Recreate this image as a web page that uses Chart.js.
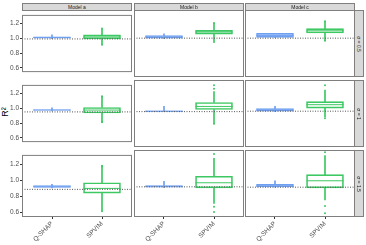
<!DOCTYPE html>
<html>
<head>
<meta charset="utf-8">
<script src="https://cdn.jsdelivr.net/npm/chart.js@4"></script>
<style>
body { margin: 0; width: 366px; height: 245px; position: relative; background: #fff; overflow: hidden; font-family: "Liberation Sans", Arial, sans-serif; }
.strip { position: absolute; background: #d9d9d9; border: 1px solid #7f7f7f; box-sizing: border-box; font-size: 5px; color: #1a1a1a; display: flex; align-items: center; justify-content: center; white-space: nowrap; }
.strip.side span { transform: rotate(90deg); }
#ylab { position: absolute; left: 0px; top: 107px; font-size: 9px; color: #000; transform: rotate(-90deg); }
</style>
</head>
<body>
<div id="ylab">R²</div>
<script>
const categories = ['Q-SHAP', 'SPVIM'];
const models = ['Model a', 'Model b', 'Model c'];
const noiseLevels = ['σ = 0.5', 'σ = 1', 'σ = 1.5'];
const yTicks = [0.6, 0.8, 1.0, 1.2];

// dotted reference line, [row][col]
const refLines = [
  [0.99, 0.99, 0.99],
  [0.95, 0.95, 0.955],
  [0.886, 0.89, 0.886]
];

// [lower whisker, q1, median, q3, upper whisker], [row][col]
const qshapStats = [
  [[0.995, 1.0, 1.01, 1.02, 1.045], [0.985, 0.99, 1.005, 1.02, 1.04], [1.0, 1.0, 1.02, 1.045, 1.045]],
  [[0.965, 0.97, 0.975, 0.98, 1.005], [0.95, 0.95, 0.955, 0.96, 1.01], [0.95, 0.955, 0.97, 0.985, 1.01]],
  [[0.905, 0.91, 0.92, 0.933, 0.95], [0.88, 0.886, 0.895, 0.905, 0.953], [0.885, 0.89, 0.9, 0.918, 0.96]]
];
const spvimStats = [
  [[0.92, 0.99, 1.017, 1.045, 1.125], [0.955, 1.035, 1.06, 1.08, 1.16], [0.965, 1.05, 1.075, 1.1, 1.18]],
  [[0.83, 0.935, 0.975, 1.01, 1.14], [0.83, 0.975, 1.01, 1.055, 1.18], [0.89, 0.99, 1.03, 1.065, 1.2]],
  [[0.64, 0.84, 0.898, 0.968, 1.16], [0.70, 0.878, 0.937, 1.012, 1.22], [0.74, 0.878, 0.96, 1.03, 1.25]]
];
const qshapOutliers = [
  [[], [], []],
  [[], [], []],
  [[], [], []]
];
const spvimOutliers = [
  [[1.13, 0.91], [1.165, 0.945], [1.185, 0.96]],
  [[1.16, 1.15, 0.81, 0.82], [1.255, 1.215, 0.81, 0.82], [1.255, 0.875]],
  [[1.18, 1.17, 0.615, 0.63], [1.27, 0.66, 0.60], [1.29, 0.67, 0.585]]
];

const blue = '#6f9ff0';
const green = '#3cc862';
const colLeft = [22, 134, 245];
const rowTop = [10, 80, 150];
const panelW = 110, panelH = 67;

const frame = {
  id: 'frame',
  afterDraw(chart) {
    const a = chart.chartArea, ctx = chart.ctx;
    ctx.save();
    ctx.strokeStyle = '#7f7f7f';
    ctx.lineWidth = 1;
    ctx.strokeRect(a.left + 0.5, a.top + 0.5, a.right - a.left - 1, a.bottom - a.top - 1);
    ctx.restore();
  }
};

function panel(r, c) {
  const showY = c === 0, showX = r === 2;
  const axW = showY ? 22 : 0, axH = showX ? 28 : 0;
  const w = panelW + axW, h = panelH + axH;
  const cv = document.createElement('canvas');
  cv.width = w; cv.height = h;
  cv.style.cssText = `position:absolute;left:${colLeft[c] - axW}px;top:${rowTop[r]}px;width:${w}px;height:${h}px`;
  document.body.appendChild(cv);

  const stats = [qshapStats[r][c], spvimStats[r][c]];
  const outs = [qshapOutliers[r][c], spvimOutliers[r][c]];
  const colors = [blue, green];
  const xs = [1, 2];

  const whiskerData = [], whiskerColors = [], outData = [], outColors = [];
  stats.forEach((s, i) => {
    whiskerData.push({x: xs[i], y: [s[3], s[4]]}, {x: xs[i], y: [s[0], s[1]]});
    whiskerColors.push(colors[i], colors[i]);
    outs[i].forEach(v => { outData.push({x: xs[i], y: v}); outColors.push(colors[i]); });
  });

  new Chart(cv, {
    type: 'bar',
    data: {
      datasets: [
        {
          type: 'line', order: 0,
          data: [{x: 0.4, y: refLines[r][c]}, {x: 2.6, y: refLines[r][c]}],
          borderColor: '#555', borderWidth: 1, borderDash: [1, 1.5], pointRadius: 0
        },
        {
          type: 'scatter', order: 1,
          data: stats.map((s, i) => ({x: xs[i], y: s[2]})),
          pointStyle: 'line', pointRadius: 18.5, borderColor: colors, borderWidth: 1
        },
        {
          type: 'scatter', order: 2,
          data: outData, pointRadius: 1, backgroundColor: outColors, borderWidth: 0
        },
        {
          type: 'bar', order: 3, grouped: false,
          data: stats.map((s, i) => ({x: xs[i], y: [s[1], s[3]]})),
          backgroundColor: 'rgba(255,255,255,0)', borderColor: colors,
          borderWidth: 1, borderSkipped: false, barThickness: 37
        },
        {
          type: 'bar', order: 4, grouped: false,
          data: whiskerData, backgroundColor: whiskerColors,
          borderWidth: 0, barThickness: 1
        }
      ]
    },
    options: {
      responsive: false,
      animation: false,
      events: [],
      layout: {padding: 0, autoPadding: false},
      plugins: {legend: {display: false}, tooltip: {enabled: false}},
      scales: {
        x: {
          type: 'linear', min: 0.4, max: 2.6, offset: false, display: showX,
          afterBuildTicks: s => { s.ticks = xs.map(v => ({value: v})); },
          afterFit: s => { if (showX) s.height = 28; },
          ticks: {
            callback: v => categories[v - 1],
            minRotation: 45, maxRotation: 45, padding: 1,
            color: '#4d4d4d', font: {size: 6.5, family: 'Liberation Sans'}
          },
          grid: {offset: false, drawOnChartArea: false, tickLength: 2, color: '#333'},
          border: {display: false}
        },
        y: {
          min: 0.542, max: 1.315, display: showY,
          afterBuildTicks: s => { s.ticks = yTicks.map(v => ({value: v})); },
          afterFit: s => { if (showY) s.width = 22; },
          ticks: {
            callback: v => v.toFixed(1), padding: 1,
            color: '#4d4d4d', font: {size: 6.5, family: 'Liberation Sans'}
          },
          grid: {drawOnChartArea: false, tickLength: 2, color: '#333'},
          border: {display: false}
        }
      }
    },
    plugins: [frame]
  });
}

for (let r = 0; r < 3; r++)
  for (let c = 0; c < 3; c++) panel(r, c);

models.forEach((m, c) => {
  const d = document.createElement('div');
  d.className = 'strip';
  d.style.cssText = `left:${colLeft[c]}px;top:3px;width:${panelW}px;height:8px`;
  d.textContent = m;
  document.body.appendChild(d);
});
noiseLevels.forEach((n, r) => {
  const d = document.createElement('div');
  d.className = 'strip side';
  d.style.cssText = `left:354px;top:${rowTop[r]}px;width:10px;height:${panelH}px`;
  d.innerHTML = `<span>${n}</span>`;
  document.body.appendChild(d);
});
</script>
</body>
</html>
